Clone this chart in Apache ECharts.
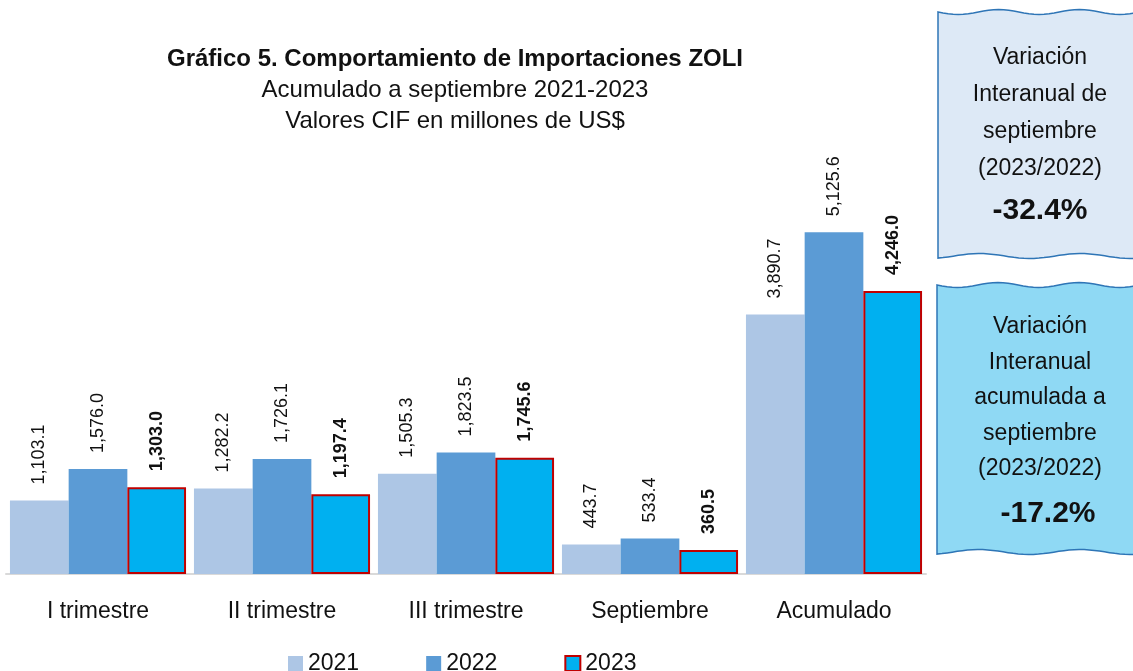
<!DOCTYPE html>
<html>
<head>
<meta charset="utf-8">
<script src="https://cdn.jsdelivr.net/npm/echarts@6/dist/echarts.min.js"></script>
<style>
  html, body { margin: 0; padding: 0; background: #fff; }
  #chart { width: 1133px; height: 671px; }
</style>
</head>
<body>
<div id="chart"></div>
<script>
const categories = ["I trimestre", "II trimestre", "III trimestre", "Septiembre", "Acumulado"];
const years = ["2021", "2022", "2023"];
const values2021 = [1103.1, 1282.2, 1505.3, 443.7, 3890.7];
const values2022 = [1576.0, 1726.1, 1823.5, 533.4, 5125.6];
const values2023 = [1303.0, 1197.4, 1745.6, 360.5, 4246.0];
const boxTop = ["Variación", "Interanual de", "septiembre", "(2023/2022)"];
const boxTopPct = "-32.4%";
const boxBottom = ["Variación", "Interanual", "acumulada a", "septiembre", "(2023/2022)"];
const boxBottomPct = "-17.2%";

const FONT = "'Liberation Sans', Arial, sans-serif";

// wavy box outline as polygon points
function wavyBox(x1, y1, x2, y2) {
  const pts = [];
  const n = 40;
  for (let i = 0; i <= n; i++) {
    const x = x1 + (x2 - x1) * i / n;
    pts.push([x, y1 + 2.5 * Math.sin(i / n * Math.PI * 5)]);
  }
  for (let i = 0; i <= n; i++) {
    const x = x2 - (x2 - x1) * i / n;
    pts.push([x, y2 + 2.5 * Math.sin(i / n * Math.PI * 4 + 1)]);
  }
  return pts;
}

function fmt(v) {
  return v.toLocaleString("en-US", { minimumFractionDigits: 1, maximumFractionDigits: 1 });
}

function boxTexts(lines, pct, cx, y0, step, pctY, pctX) {
  const out = lines.map((t, i) => ({
    type: "text", x: cx, y: y0 + i * step,
    style: { text: t, align: "center", verticalAlign: "middle", font: "23px " + FONT, fill: "#111" }
  }));
  out.push({
    type: "text", x: pctX, y: pctY,
    style: { text: pct, align: "center", verticalAlign: "middle", font: "bold 30px " + FONT, fill: "#111" }
  });
  return out;
}

const myChart = echarts.init(document.getElementById("chart"));

const labelBase = {
  show: true,
  position: "top",
  rotate: 90,
  align: "left",
  verticalAlign: "middle",
  distance: 16,
  fontFamily: FONT,
  fontSize: 18,
  color: "#111",
  formatter: p => fmt(p.value)
};

const option = {
  animation: false,
  title: [
    { text: "Gráfico 5. Comportamiento de Importaciones ZOLI", left: 450, top: 42, textAlign: "center",
      textStyle: { fontFamily: FONT, fontSize: 24, fontWeight: "bold", color: "#111" } },
    { text: "Acumulado a septiembre 2021-2023", left: 450, top: 73, textAlign: "center",
      textStyle: { fontFamily: FONT, fontSize: 24, fontWeight: "normal", color: "#111" } },
    { text: "Valores CIF en millones de US$", left: 450, top: 104, textAlign: "center",
      textStyle: { fontFamily: FONT, fontSize: 24, fontWeight: "normal", color: "#111" } }
  ],
  grid: { left: 6, right: 207, top: 174, bottom: 97 },
  legend: {
    data: years,
    icon: "rect",
    left: 283, top: 647,
    itemWidth: 15, itemHeight: 15, itemGap: 67,
    textStyle: { fontFamily: FONT, fontSize: 23, color: "#111" }
  },
  xAxis: {
    type: "category",
    data: categories,
    axisLine: { lineStyle: { color: "#d9d9d9", width: 2 } },
    axisTick: { show: false },
    axisLabel: { margin: 26, fontFamily: FONT, fontSize: 23, color: "#111" }
  },
  yAxis: { type: "value", min: 0, max: 6000, show: false, splitLine: { show: false } },
  series: [
    { name: "2021", type: "bar", data: values2021, barGap: "0%", barCategoryGap: "4.3%",
      itemStyle: { color: "#adc6e5" }, label: labelBase },
    { name: "2022", type: "bar", data: values2022, barGap: "0%",
      itemStyle: { color: "#5b9bd5" }, label: labelBase },
    { name: "2023", type: "bar", data: values2023, barGap: "0%",
      itemStyle: { color: "#00b0f0", borderColor: "#c00000", borderWidth: 2 },
      label: Object.assign({}, labelBase, { fontWeight: "bold" }) }
  ],
  graphic: [
    { type: "polygon", shape: { points: wavyBox(938, 12, 1140, 256) },
      style: { fill: "#dde9f6", stroke: "#2e75b6", lineWidth: 1.5 } },
    { type: "polygon", shape: { points: wavyBox(937, 285, 1140, 552) },
      style: { fill: "#8fd9f4", stroke: "#2e75b6", lineWidth: 1.5 } }
  ].concat(
    boxTexts(boxTop, boxTopPct, 1040, 58, 37, 211, 1040),
    boxTexts(boxBottom, boxBottomPct, 1040, 327, 35.5, 514, 1048)
  )
};

option && myChart.setOption(option);
</script>
</body>
</html>
